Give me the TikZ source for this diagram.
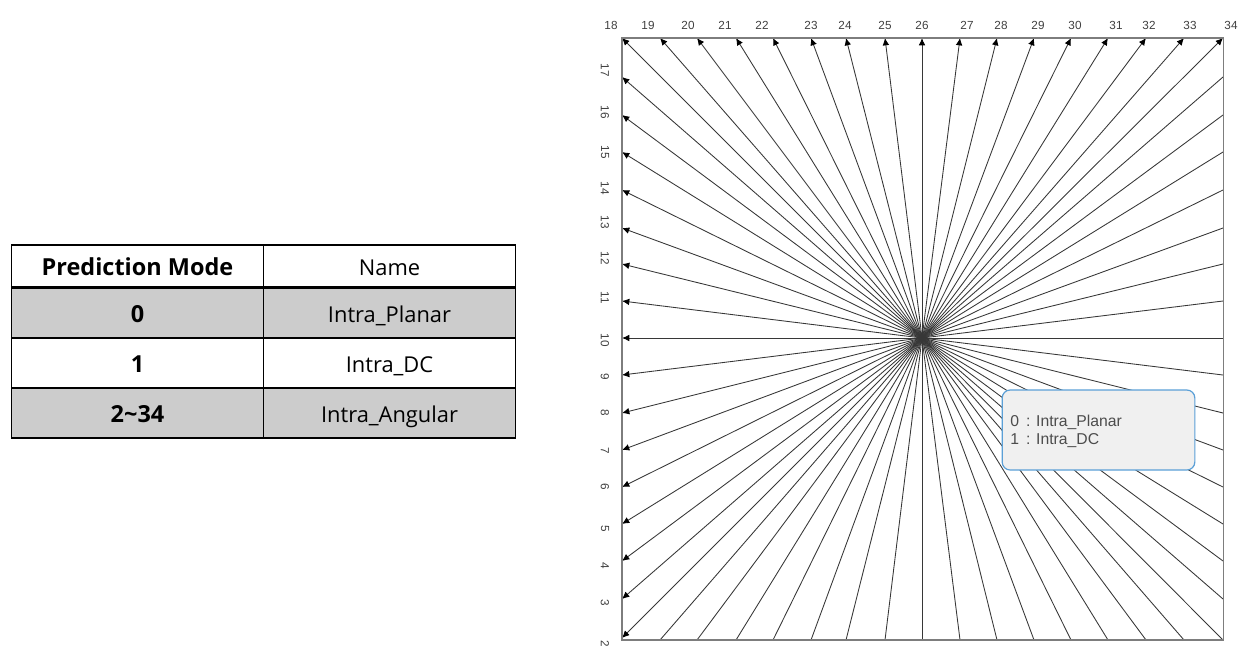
\documentclass[tikz,border=0pt]{standalone}
\usepackage{fontspec}
\setmainfont{Open Sans}
\newfontfamily\plotfont{Liberation Sans}
\usetikzlibrary{positioning, arrows.meta}
\definecolor{cellgray}{RGB}{204, 204, 204}
\definecolor{framegray}{RGB}{125, 125, 125}
\definecolor{raygray}{RGB}{55, 55, 55}
\definecolor{notefill}{RGB}{240, 240, 240}
\definecolor{noteblue}{RGB}{91, 160, 215}
\tikzset{
    cellbox/.style={draw=black, line width=0.8pt, minimum width=189pt, minimum height=37.5pt, inner sep=0pt, text height=16pt, text depth=2pt, font=\fontsize{16.4}{19}\selectfont},
    headbox/.style={cellbox, minimum height=31.5pt},
    boldcell/.style={font=\fontsize{17.6}{19}\selectfont\bfseries},
    modelabel/.style={font=\plotfont\fontsize{8.8}{10}\selectfont, text=black!75, inner sep=0pt},
    ray/.style={draw=raygray, line width=0.65pt},
    tipray/.style={ray, -{Latex[length=5.5pt, width=5pt, black]}}
}

\begin{document}
\begin{tikzpicture}[x=0.75pt, y=-0.75pt]
    \useasboundingbox (0, 0) rectangle (1248, 657);

    % table
    \node[headbox, boldcell] (headmode) at (137.5, 266) {Prediction Mode};
    \node[headbox] (headname) at (389.5, 266) {Name};
    \node[cellbox, boldcell, fill=cellgray] (mode0) at (137.5, 313) {0};
    \node[cellbox, fill=cellgray] (name0) at (389.5, 313) {Intra\_Planar};
    \node[cellbox, boldcell] (mode1) at (137.5, 363) {1};
    \node[cellbox] (name1) at (389.5, 363) {Intra\_DC};
    \node[cellbox, boldcell, fill=cellgray] (mode2) at (137.5, 413) {2\char`\~34};
    \node[cellbox, fill=cellgray] (name2) at (389.5, 413) {Intra\_Angular};
    \draw[line width=2.4pt] (headmode.south west) -- (headname.south east);

    % mode directions
    \coordinate (centre) at (922, 338);
    \foreach \n/\py in {18/38, 17/77, 16/115, 15/152, 14/190, 13/228, 12/264, 11/301, 10/338, 9/375, 8/413, 7/450, 6/487, 5/524, 4/561, 3/599, 2/638} {
        \coordinate (left\n) at (622, \py);
        \draw[tipray] (centre) -- (left\n);
    }
    \foreach \n/\py in {17/77, 16/115, 15/152, 14/190, 13/228, 12/264, 11/301, 10/338, 9/375, 8/413, 7/450, 6/487, 5/524, 4/561, 3/599} {
        \coordinate (right\n) at (1223, \py);
        \draw[ray] (centre) -- (right\n);
    }
    \foreach \n/\px in {19/660, 20/697, 21/736, 22/773, 23/811, 24/846, 25/885, 26/922, 27/960, 28/997, 29/1034, 30/1071, 31/1108, 32/1146, 33/1184, 34/1223} {
        \coordinate (top\n) at (\px, 38);
        \coordinate (bottom\n) at (\px, 640);
        \draw[tipray] (centre) -- (top\n);
        \draw[ray] (centre) -- (bottom\n);
    }
    \draw[framegray, line width=1.1pt] (622, 38) rectangle (1223.5, 640);

    % mode numbers
    \foreach \n/\px in {18/611, 19/648, 20/688, 21/725, 22/762, 23/811, 24/845, 25/885, 26/922, 27/967, 28/1001, 29/1038, 30/1075, 31/1116, 32/1149, 33/1190, 34/1231} {
        \node[modelabel] (lab\n) at (\px, 25) {\n};
    }
    \foreach \n/\py in {17/70, 16/112, 15/152, 14/188, 13/222, 12/258, 11/298, 10/340, 9/377, 8/413, 7/451, 6/487, 5/529, 4/566, 3/603, 2/644} {
        \node[modelabel, rotate=-90] (lab\n) at (605, \py) {\n};
    }

    % note
    \node[draw=noteblue, fill=notefill, line width=0.9pt, rounded corners=6pt, minimum width=144.5pt, minimum height=60pt, inner sep=0pt] (note) at (1098.5, 430) {};
    \node[font=\plotfont\fontsize{11.8}{14}\selectfont, text=black!70, align=left, inner sep=0pt, anchor=west] (notetext) at (1010, 431.5) {0\ \,: Intra\_Planar\\1\ \,: Intra\_DC};
\end{tikzpicture}
\end{document}
